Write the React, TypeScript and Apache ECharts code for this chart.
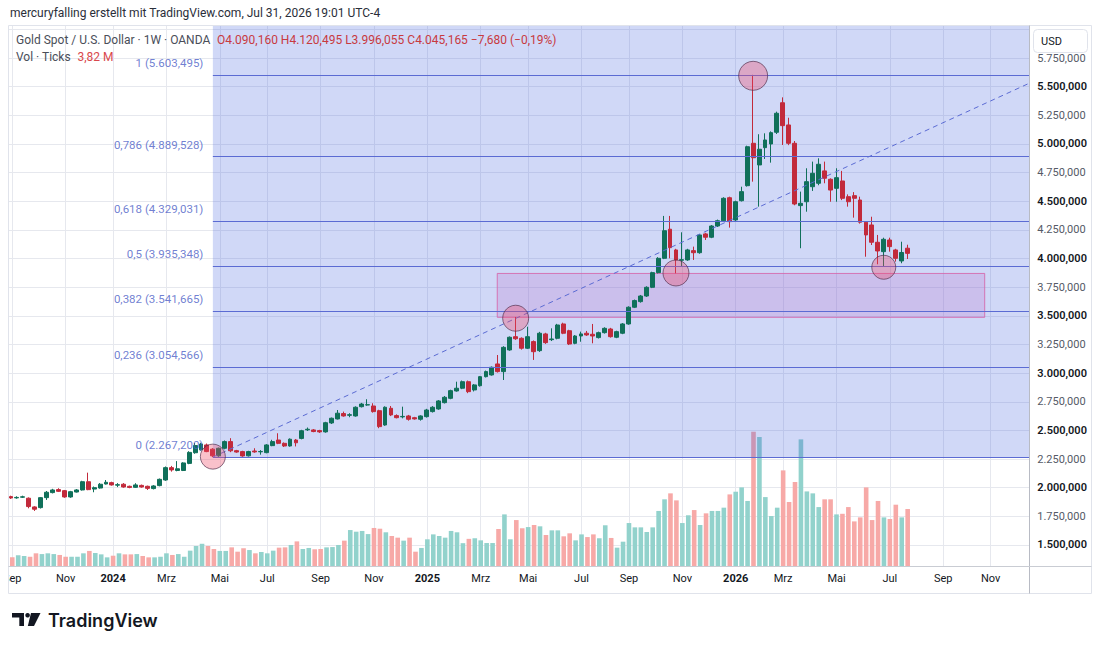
import React, { useEffect, useRef } from "react";
import * as echarts from "echarts";

// ---------- data ----------
const FIRST_WEEK_UTC = Date.UTC(2023, 8, 4); // week of the first candle
const WEEK_COUNT = 172; // candles + empty future weeks shown on the axis

const opens = [
  1922, 1911, 1917, 1908, 1832, 1826, 1913, 1957, 1983, 1974,
  1919, 1962, 1980, 2052, 1988, 1997, 2032, 2044, 2022, 2030,
  2012, 2003, 2020, 2012, 1992, 2018, 2067, 2175, 2150, 2150,
  2212, 2305, 2330, 2373, 2336, 2278, 2344, 2402, 2323, 2315,
  2278, 2320, 2313, 2306, 2367, 2416, 2387, 2364, 2416, 2430,
  2505, 2504, 2498, 2487, 2565, 2600, 2647, 2632, 2626, 2707,
  2722, 2713, 2672, 2547, 2693, 2629, 2618, 2626, 2611, 2597,
  2620, 2664, 2687, 2742, 2780, 2844, 2868, 2925, 2853, 2890,
  2969, 2984, 3080, 3013, 3202, 3318, 3304, 3217, 3275, 3196,
  3342, 3292, 3304, 3429, 3370, 3260, 3324, 3348, 3339, 3310,
  3353, 3385, 3313, 3348, 3429, 3575, 3624, 3673, 3749, 3877,
  4002, 4256, 4075, 3985, 3988, 4069, 4051, 4215, 4186, 4284,
  4330, 4531, 4337, 4505, 4636, 5006, 4817, 4968, 5000, 5102,
  5360, 5166, 5006, 4462, 4496, 4627, 4657, 4765, 4692, 4613,
  4677, 4540, 4549, 4511, 4317, 4293, 4142, 4060, 4162, 4075,
  3979, 4090.16,
];
const highs = [
  1930, 1925, 1930, 1915, 1838, 1918, 1971, 1990, 1995, 1980,
  1972, 1988, 2060, 2131, 2010, 2040, 2067, 2052, 2040, 2040,
  2018, 2039, 2027, 2018, 2022, 2080, 2185, 2190, 2232, 2222,
  2318, 2390, 2392, 2385, 2345, 2350, 2412, 2432, 2330, 2322,
  2322, 2344, 2328, 2380, 2418, 2475, 2395, 2430, 2425, 2505,
  2525, 2512, 2505, 2575, 2612, 2678, 2664, 2650, 2710, 2740,
  2772, 2737, 2680, 2710, 2713, 2640, 2707, 2635, 2618, 2632,
  2688, 2712, 2765, 2800, 2855, 2925, 2935, 2935, 2905, 2975,
  3022, 3058, 3158, 3235, 3320, 3490, 3312, 3405, 3285, 3360,
  3352, 3391, 3430, 3440, 3378, 3332, 3362, 3368, 3429, 3362,
  3400, 3395, 3370, 3437, 3583, 3642, 3682, 3758, 3885, 4012,
  4372, 4372, 4085, 4229, 4085, 4104, 4215, 4225, 4292, 4340,
  4535, 4540, 4505, 4627, 4985, 5603.495, 5085, 5093, 5110, 5282,
  5407, 5229, 5026, 4584, 4788, 4846, 4875, 4846, 4700, 4788,
  4765, 4560, 4580, 4540, 4325, 4365, 4206, 4182, 4182, 4085,
  4147, 4120.495,
];
const lows = [
  1902, 1904, 1910, 1820, 1797, 1818, 1893, 1950, 1962, 1912,
  1912, 1958, 1975, 1978, 1960, 1992, 2028, 2018, 2005, 2000,
  1995, 1998, 2000, 1980, 1985, 2012, 2060, 2140, 2143, 2145,
  2205, 2296, 2325, 2310, 2267.2, 2270, 2335, 2310, 2305, 2270,
  2272, 2305, 2288, 2300, 2362, 2380, 2355, 2358, 2360, 2422,
  2495, 2484, 2478, 2480, 2556, 2595, 2620, 2615, 2620, 2700,
  2715, 2655, 2519, 2540, 2625, 2605, 2605, 2585, 2594, 2585,
  2612, 2656, 2680, 2735, 2772, 2838, 2860, 2825, 2840, 2882,
  2962, 2978, 3005, 2940, 3195, 3290, 3205, 3210, 3115, 3185,
  3255, 3280, 3295, 3340, 3245, 3252, 3274, 3325, 3260, 3302,
  3345, 3310, 3305, 3340, 3422, 3568, 3615, 3665, 3742, 3870,
  3995, 4002, 3871, 3929, 3980, 3988, 4042, 4162, 4178, 4276,
  4322, 4270, 4328, 4498, 4628, 4671, 4453, 4869, 4837, 5087,
  4991, 4990, 4465, 4090, 4409, 4590, 4640, 4657, 4496, 4496,
  4510, 4453, 4357, 4305, 4016, 4118, 3950, 3929, 4060, 3973,
  3959, 3996.055,
];
const closes = [
  1910, 1915, 1920, 1835, 1812, 1913, 1960, 1980, 1968, 1919,
  1965, 1980, 2052, 1983, 2000, 2030, 2047, 2024, 2026, 2006,
  2002, 2024, 2006, 1994, 2015, 2073, 2175, 2155, 2165, 2216,
  2308, 2368, 2381, 2315, 2278, 2344, 2402, 2322, 2311, 2277,
  2315, 2312, 2316, 2373, 2402, 2387, 2364, 2423, 2392, 2497,
  2510, 2490, 2487, 2567, 2606, 2650, 2626, 2637, 2702, 2730,
  2724, 2664, 2533, 2702, 2635, 2611, 2622, 2597, 2600, 2626,
  2678, 2702, 2757, 2789, 2847, 2868, 2925, 2838, 2897, 2969,
  3013, 3051, 3013, 3225, 3313, 3300, 3217, 3318, 3187, 3348,
  3266, 3298, 3420, 3348, 3254, 3324, 3342, 3333, 3324, 3353,
  3391, 3318, 3362, 3429, 3575, 3633, 3673, 3749, 3877, 4002,
  4243, 4095, 3988, 3990, 4075, 4051, 4206, 4186, 4284, 4330,
  4526, 4322, 4496, 4584, 4976, 4880, 4954, 5035, 5099, 5268,
  5160, 5006, 4476, 4482, 4671, 4744, 4823, 4701, 4598, 4706,
  4526, 4496, 4526, 4317, 4206, 4142, 4066, 4168, 4104, 4002,
  4052.845, 4045.165,
];
// weekly tick volume, millions
const volumesM = [
  0.58, 0.72, 0.67, 0.62, 0.85, 0.8, 0.85, 0.8, 0.74, 0.62,
  0.62, 0.62, 0.85, 1.01, 0.87, 0.78, 0.58, 0.69, 0.85, 0.78,
  0.78, 0.8, 0.67, 0.58, 0.58, 0.62, 0.85, 0.74, 0.8, 0.62,
  1.03, 1.34, 1.49, 1.34, 1.14, 1.01, 1.01, 1.25, 0.96, 1.19,
  1.07, 0.85, 0.94, 0.85, 1.03, 1.23, 1.25, 1.41, 1.65, 1.14,
  1.21, 1.12, 1.14, 1.25, 1.27, 1.41, 1.7, 2.41, 2.3, 2.35,
  2.14, 2.55, 2.5, 2.26, 2.01, 1.9, 1.7, 1.9, 0.96, 1.21,
  1.79, 2.12, 2.01, 1.9, 2.35, 2.26, 1.53, 1.82, 1.86, 1.72,
  1.54, 1.54, 2.48, 3.46, 1.79, 3.08, 2.53, 2.61, 2.75, 2.66,
  2.08, 2.39, 2.39, 1.99, 2.19, 1.72, 2.12, 1.94, 2.12, 1.86,
  2.73, 1.88, 1.23, 1.63, 2.88, 2.59, 2.59, 2.28, 2.59, 3.69,
  4.47, 4.87, 4.4, 2.88, 3.4, 3.75, 2.75, 3.53, 3.69, 3.69,
  3.91, 4.8, 4.98, 5.27, 4.36, 9.0, 8.64, 4.62, 3.35, 3.91,
  6.41, 4.29, 5.63, 8.49, 5.0, 4.87, 3.95, 4.47, 4.47, 3.46,
  3.5, 3.95, 2.99, 3.26, 5.27, 3.08, 4.36, 3.26, 3.15, 4.11,
  3.26, 3.82,
];

// x-axis month ticks (week index → label)
const monthTickIdx = [0, 9, 17, 26, 35, 43, 52, 61, 70, 79, 87, 96, 104, 113, 122, 130, 139, 148, 157, 165];
const monthTickText = ["Sep", "Nov", "2024", "Mrz", "Mai", "Jul", "Sep", "Nov", "2025", "Mrz", "Mai", "Jul", "Sep", "Nov", "2026", "Mrz", "Mai", "Jul", "Sep", "Nov"];

// Fibonacci retracement drawing
const fibRatioText = ["0", "0,236", "0,382", "0,5", "0,618", "0,786", "1"];
const fibPrices = [2267.2, 3054.566, 3541.665, 3935.348, 4329.031, 4889.528, 5603.495];
const fibAnchorIdx = 34;

// dashed trend line (week index, price)
const trendIdx = [34, 171.5];
const trendPrice = [2267.2, 5530];

// highlighted pivot circles (week index, price)
const circleIdx = [34, 85, 112, 125, 147];
const circlePrice = [2271, 3479, 3874, 5595, 3924];

// support zone rectangle
const zoneIdx = [81.9, 164];
const zonePrice = [3487, 3870];

// price axis range
const PRICE_MIN = 1250;
const PRICE_MAX = 6029.8;
const PRICE_STEP = 250;
const VOL_MAX = 36.2;

// ---------- styles ----------
const FONT = 'Roboto, "Noto Sans", "DejaVu Sans", sans-serif';
const UP = "#10705a";
const DOWN = "#c22a3b";
const VOL_UP = "#92d2cc";
const VOL_DOWN = "#f7a9a7";
const FIB_BLUE = "#5b6bd3";
const FIB_TEXT = "#4b5ec6";
const GRID_LINE = "#e6e8ee";
const circleSizes = [25, 26, 26, 29, 24];

const GRID_LEFT = 8.03;
const GRID_W = 1021.2;
const GRID_TOP = 26;
const PRICE_H = 547.6;
const VOL_H = 540;

function fmt(v: number, d = 3): string {
  const s = Math.abs(v).toFixed(d);
  const [ip, fp] = s.split(".");
  const ii = ip.replace(/\B(?=(\d{3})+(?!\d))/g, ".");
  return (v < 0 ? "\u2212" : "") + ii + (fp ? "," + fp : "");
}

export default function App() {
  const ref = useRef<HTMLDivElement>(null);

  useEffect(() => {
    if (!ref.current) return;
    const chart = echarts.init(ref.current, undefined, { renderer: "svg" });

    const cats = Array.from({ length: WEEK_COUNT }, (_, i) =>
      new Date(FIRST_WEEK_UTC + i * 7 * 864e5).toISOString().slice(0, 10)
    );
    const tickMap = new Map<number, string>(monthTickIdx.map((x, k) => [x, monthTickText[k]]));
    const xMaxVal = WEEK_COUNT - 0.5;

    const last = opens.length - 1;
    const chg = closes[last] - closes[last - 1];
    const pct = (chg / closes[last - 1]) * 100;
    const ohlcText = `O${fmt(opens[last])} H${fmt(highs[last])} L${fmt(lows[last])} C${fmt(closes[last])} ${fmt(chg)} (${fmt(pct, 2)}%)`;

    const candleData = opens.map((o, i) => [o, closes[i], lows[i], highs[i]]);
    const volData = volumesM.map((v, i) => ({
      value: v,
      itemStyle: { color: closes[i] >= opens[i] ? VOL_UP : VOL_DOWN },
    }));

    const option: any = {
      animation: false,
      backgroundColor: "#ffffff",
      grid: [
        { left: GRID_LEFT, top: GRID_TOP, width: GRID_W, height: PRICE_H },
        { left: GRID_LEFT, top: GRID_TOP, width: GRID_W, height: VOL_H },
      ],
      xAxis: [
        { type: "category", gridIndex: 0, data: cats, show: false, boundaryGap: true },
        { type: "value", gridIndex: 0, min: -0.5, max: xMaxVal, show: false },
        {
          type: "category",
          gridIndex: 1,
          data: cats,
          boundaryGap: true,
          axisLine: { show: false },
          axisTick: { show: false },
          splitLine: { show: false },
          axisLabel: {
            interval: (index: number) => tickMap.has(index),
            formatter: (_v: string, index: number) => {
              const t = tickMap.get(index) || "";
              return /^\d{4}$/.test(t) ? `{y|${t}}` : `{m|${t}}`;
            },
            margin: 7,
            rich: {
              y: { fontWeight: "bold", color: "#131722", fontSize: 11, fontFamily: FONT },
              m: { color: "#131722", fontSize: 11, fontFamily: FONT },
            },
          },
        },
        { type: "value", gridIndex: 1, min: -0.5, max: xMaxVal, show: false },
      ],
      yAxis: [
        {
          type: "value",
          gridIndex: 0,
          position: "right",
          min: PRICE_MIN,
          max: PRICE_MAX,
          interval: PRICE_STEP,
          axisLine: { show: false },
          axisTick: { show: false },
          splitLine: { show: true, showMinLine: false, showMaxLine: false, lineStyle: { color: GRID_LINE, width: 1 } },
          axisLabel: {
            margin: 8,
            formatter: (v: number) => {
              if (v < 1500 || v > 5750 || v % PRICE_STEP !== 0) return "";
              return v % 500 === 0 ? `{b|${fmt(v)}}` : `{n|${fmt(v)}}`;
            },
            rich: {
              b: { color: "#131722", fontWeight: 600, fontSize: 11, fontFamily: FONT },
              n: { color: "#555a66", fontSize: 11, fontFamily: FONT },
            },
          },
        },
        { type: "value", gridIndex: 1, min: 0, max: VOL_MAX, show: false },
      ],
      series: [
        {
          name: "vgrid",
          type: "line",
          xAxisIndex: 3,
          yAxisIndex: 1,
          data: [[0, 0]],
          symbol: "none",
          lineStyle: { opacity: 0 },
          silent: true,
          z: 0,
          markLine: {
            z: 0,
            silent: true,
            symbol: ["none", "none"],
            label: { show: false },
            lineStyle: { color: GRID_LINE, width: 1, type: "solid" },
            data: monthTickIdx.map((x) => ({ xAxis: x })),
          },
        },
        {
          name: "Vol",
          type: "bar",
          xAxisIndex: 2,
          yAxisIndex: 1,
          data: volData,
          barWidth: 4.6,
          z: 1,
          silent: true,
        },
        {
          name: "fibFill",
          type: "line",
          xAxisIndex: 1,
          yAxisIndex: 0,
          data: [[fibAnchorIdx, fibPrices[0]]],
          symbol: "none",
          lineStyle: { opacity: 0 },
          silent: true,
          z: 2,
          markArea: {
            z: 2,
            silent: true,
            itemStyle: { color: "rgba(60, 90, 220, 0.24)" },
            data: [[{ coord: [fibAnchorIdx, fibPrices[0]] }, { coord: [xMaxVal, PRICE_MAX] }]],
          },
        },
        {
          name: "zone",
          type: "line",
          xAxisIndex: 1,
          yAxisIndex: 0,
          data: [[zoneIdx[0], zonePrice[0]]],
          symbol: "none",
          lineStyle: { opacity: 0 },
          silent: true,
          z: 3,
          markArea: {
            z: 3,
            silent: true,
            itemStyle: { color: "rgba(186, 104, 200, 0.22)", borderColor: "rgba(214, 100, 170, 0.85)", borderWidth: 1 },
            data: [[{ coord: [zoneIdx[0], zonePrice[1]] }, { coord: [zoneIdx[1], zonePrice[0]] }]],
          },
        },
        {
          name: "fibLevels",
          type: "line",
          xAxisIndex: 1,
          yAxisIndex: 0,
          data: [[fibAnchorIdx, fibPrices[0]]],
          symbol: "none",
          lineStyle: { opacity: 0 },
          silent: true,
          z: 5,
          markLine: {
            z: 5,
            silent: true,
            symbol: ["none", "none"],
            label: { show: false },
            lineStyle: { color: FIB_BLUE, width: 1, type: "solid" },
            data: fibPrices.map((p) => [{ coord: [fibAnchorIdx, p] }, { coord: [xMaxVal, p] }]),
          },
        },
        {
          name: "trend",
          type: "line",
          xAxisIndex: 1,
          yAxisIndex: 0,
          data: trendIdx.map((x, k) => [x, trendPrice[k]]),
          symbol: "none",
          silent: true,
          z: 5,
          lineStyle: { color: FIB_BLUE, width: 1, type: [5, 4] },
        },
        {
          name: "Gold",
          type: "candlestick",
          xAxisIndex: 0,
          yAxisIndex: 0,
          data: candleData,
          barWidth: 4.4,
          z: 4,
          silent: true,
          itemStyle: { color: UP, color0: DOWN, borderColor: UP, borderColor0: DOWN, borderWidth: 1 },
        },
        {
          name: "circles",
          type: "scatter",
          xAxisIndex: 1,
          yAxisIndex: 0,
          silent: true,
          z: 6,
          data: circleIdx.map((x, k) => ({ value: [x, circlePrice[k]], symbolSize: circleSizes[k] })),
          itemStyle: { color: "rgba(240, 70, 100, 0.42)", borderColor: "rgba(80, 45, 75, 0.85)", borderWidth: 1 },
        },
        {
          name: "fibLabels",
          type: "scatter",
          xAxisIndex: 1,
          yAxisIndex: 0,
          silent: true,
          z: 7,
          symbolSize: 1,
          itemStyle: { color: "rgba(0,0,0,0)" },
          data: fibPrices.map((p, k) => ({
            value: [fibAnchorIdx, p],
            label: { formatter: `${fibRatioText[k]} (${fmt(p)})` },
          })),
          label: {
            show: true,
            position: "left",
            distance: 9,
            offset: [0, -12],
            color: FIB_TEXT,
            fontSize: 11.5,
            fontFamily: FONT,
          },
        },
      ],
      graphic: [
        { type: "rect", z: 100, silent: true, shape: { x: 0, y: 560, width: 8, height: 40 }, style: { fill: "#ffffff" } },
        { type: "rect", z: 101, silent: true, shape: { x: 8.5, y: 25.5, width: 1083, height: 568 }, style: { fill: "none", stroke: "#e0e3eb", lineWidth: 1 } },
        { type: "line", z: 101, silent: true, shape: { x1: 1029.5, y1: 25.5, x2: 1029.5, y2: 593.5 }, style: { stroke: "#b8bbc4", lineWidth: 1 } },
        { type: "line", z: 101, silent: true, shape: { x1: 8.5, y1: 566.5, x2: 1091.5, y2: 566.5 }, style: { stroke: "#c9ccd3", lineWidth: 1 } },
        { type: "rect", z: 102, silent: true, shape: { x: 1033.5, y: 29.5, width: 54, height: 23, r: 4 }, style: { fill: "#ffffff", stroke: "#e0e3eb", lineWidth: 1 } },
        { type: "text", z: 103, silent: true, x: 1041, y: 41, style: { text: "USD", fill: "#131722", fontSize: 11, fontFamily: FONT, verticalAlign: "middle" } },
        {
          type: "text", z: 103, silent: true, x: 10, y: 13,
          style: { text: "mercuryfalling erstellt mit TradingView.com, Jul 31, 2026 19:01 UTC-4", fill: "#2a2e39", fontSize: 12, fontFamily: FONT, verticalAlign: "middle" },
        },
        {
          type: "text", z: 103, silent: true, x: 16, y: 40,
          style: {
            text: `{g|Gold Spot / U.S. Dollar · 1W · OANDA}  {r|${ohlcText}}`,
            verticalAlign: "middle",
            rich: {
              g: { fill: "#4a4e59", fontSize: 12, fontFamily: FONT },
              r: { fill: "#c83a3f", fontSize: 12, fontFamily: FONT },
            },
          },
        },
        {
          type: "text", z: 103, silent: true, x: 16, y: 57,
          style: {
            text: `{g|Vol · Ticks}  {r|${fmt(volumesM[last], 2)} M}`,
            verticalAlign: "middle",
            rich: {
              g: { fill: "#4a4e59", fontSize: 12, fontFamily: FONT },
              r: { fill: "#d9484c", fontSize: 12, fontFamily: FONT },
            },
          },
        },
        // TradingView logo
        { type: "rect", z: 103, silent: true, shape: { x: 12, y: 613, width: 12, height: 4.5 }, style: { fill: "#131722" } },
        { type: "rect", z: 103, silent: true, shape: { x: 19.3, y: 613, width: 4.7, height: 13 }, style: { fill: "#131722" } },
        { type: "circle", z: 103, silent: true, shape: { cx: 27.6, cy: 615.3, r: 2.3 }, style: { fill: "#131722" } },
        { type: "polygon", z: 103, silent: true, shape: { points: [[31, 613], [40.5, 613], [34, 626], [27.8, 626]] }, style: { fill: "#131722" } },
        {
          type: "text", z: 103, silent: true, x: 48, y: 620,
          style: { text: "TradingView", fill: "#131722", fontSize: 18, fontWeight: 600, fontFamily: 'Inter, "Noto Sans", sans-serif', verticalAlign: "middle" },
        },
      ],
    };

    chart.setOption(option);
    return () => {
      chart.dispose();
    };
  }, []);

  return (
    <div
      ref={ref}
      style={{ position: "fixed", left: 0, top: 0, width: 1100, height: 649, background: "#ffffff" }}
    />
  );
}
